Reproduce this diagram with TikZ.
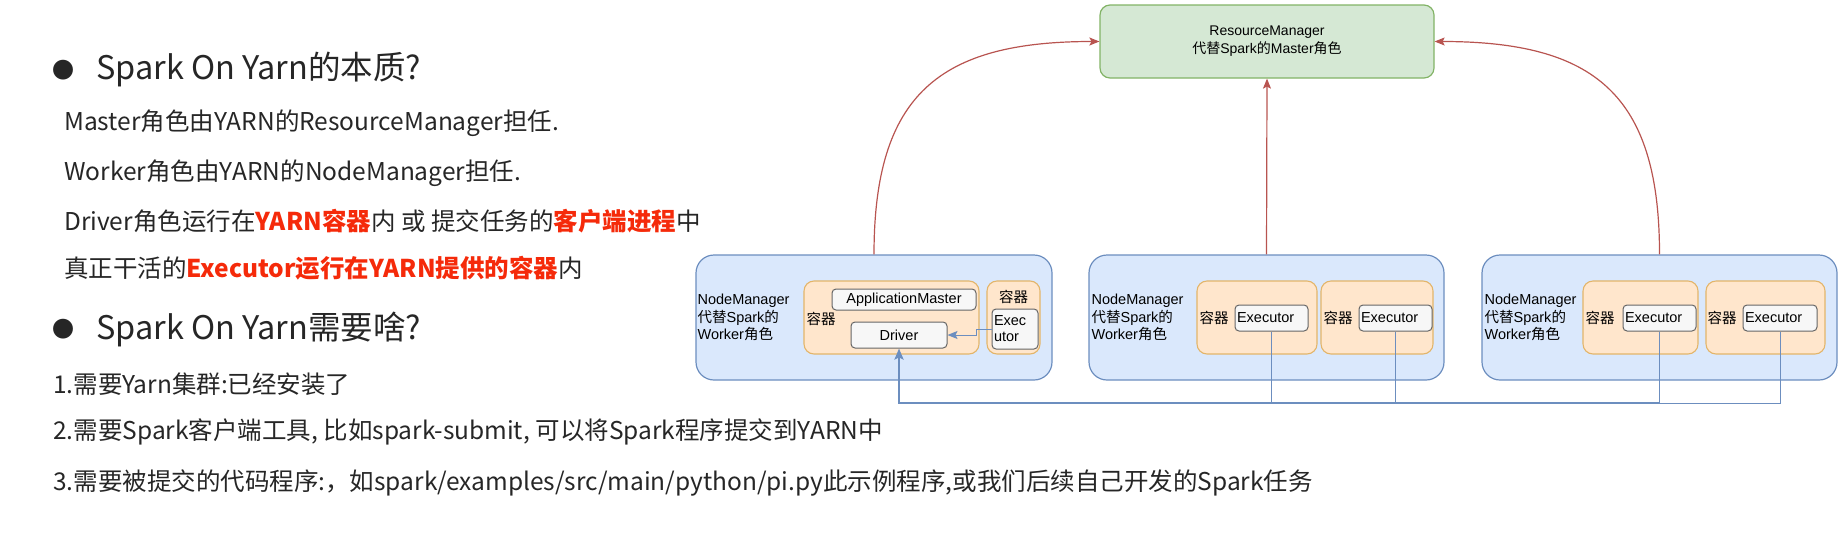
\documentclass[tikz,border=0pt]{standalone}
\usepackage{fontspec}
\setmainfont{Liberation Sans}
\newfontfamily\cjk{Noto Sans CJK SC}
\usetikzlibrary{arrows.meta}
\definecolor{nmfill}{HTML}{DAE8FC}
\definecolor{nmline}{HTML}{6C8EBF}
\definecolor{ctfill}{HTML}{FFE6CC}
\definecolor{ctline}{HTML}{E3B56A}
\definecolor{rmfill}{HTML}{D5E8D4}
\definecolor{rmline}{HTML}{82B366}
\definecolor{exfill}{HTML}{F7F7F7}
\definecolor{exline}{HTML}{666666}
\definecolor{redarrow}{HTML}{B85450}
\definecolor{hl}{HTML}{F52A0A}
\definecolor{txt}{HTML}{262626}
\newcommand\hlr[1]{{\color{hl}\bfseries #1}}
\begin{document}
\begin{tikzpicture}[x=1pt,y=-1pt,
  nm/.style={draw=nmline, fill=nmfill, rounded corners=18pt, line width=1.2pt, inner sep=0},
  ct/.style={draw=ctline, fill=ctfill, rounded corners=10pt, line width=1.1pt, inner sep=0},
  ex/.style={draw=exline, fill=exfill, rounded corners=4pt, line width=1pt, inner sep=2pt, font=\fontsize{14.5}{16}\selectfont},
  rmbox/.style={draw=rmline, fill=rmfill, rounded corners=10pt, line width=1.2pt, inner sep=0, font=\fontsize{14}{18}\selectfont, align=center},
  lbl/.style={inner sep=0, font=\fontsize{14.5}{17.5}\selectfont, align=left, text=black},
  ctl/.style={inner sep=0, font=\cjk\fontsize{14.5}{17}\selectfont, text=black},
  redarr/.style={draw=redarrow, line width=1.2pt, -{Stealth[length=10pt,width=8pt,inset=2pt]}},
  bl/.style={draw=nmline, line width=1pt},
  blthick/.style={draw=nmline, line width=2.4pt},
  bullet/.style={inner sep=0, font=\cjk\fontsize{22}{22}\selectfont, text=txt},
  ttl/.style={inner sep=0, anchor=west, font=\cjk\fontsize{32.5}{32.5}\selectfont, text=txt},
  body/.style={inner sep=0, anchor=west, font=\cjk\fontsize{24.5}{24.5}\selectfont, text=txt}]
\useasboundingbox (0,0) rectangle (1841,544);

% left text
\node[bullet] (b1) at (63,70) {●};
\node[ttl] (t1) at (96,70) {Spark On Yarn的本质?};
\node[body] (l1) at (64,123) {Master角色由YARN的ResourceManager担任.};
\node[body] (l2) at (64,173) {Worker角色由YARN的NodeManager担任.};
\node[body] (l3) at (64,221) {Driver角色运行在\hlr{YARN容器}内 或 提交任务的\hlr{客户端进程}中};
\node[body] (l4) at (64,268) {真正干活的\hlr{Executor运行在YARN提供的容器}内};
\node[bullet] (b2) at (63,329) {●};
\node[ttl] (t2) at (96,329) {Spark On Yarn需要啥?};
\node[body] (m1) at (53,384) {1.需要Yarn集群:已经安装了};
\node[body] (m2) at (53,432) {2.需要Spark客户端工具, 比如spark-submit, 可以将Spark程序提交到YARN中};
\node[body] (m3) at (53,483) {3.需要被提交的代码程序:，如spark/examples/src/main/python/pi.py此示例程序,或我们后续自己开发的Spark任务};

% ResourceManager
\node[rmbox, minimum width=334pt, minimum height=73pt] (rm) at (1267,41.5) {ResourceManager\\{\cjk 代替}Spark{\cjk 的}Master{\cjk 角色}};

% NodeManagers
\node[nm, minimum width=356pt, minimum height=125pt] (n1) at (874,317.5) {};
\node[nm, minimum width=355pt, minimum height=125pt] (n2) at (1266.5,317.5) {};
\node[nm, minimum width=355pt, minimum height=125pt] (n3) at (1659.5,317.5) {};
\node[lbl, anchor=west] (n1l) at ([xshift=2pt]n1.west) {NodeManager\\{\cjk 代替}Spark{\cjk 的}\\Worker{\cjk 角色}};
\node[lbl, anchor=west] (n2l) at ([xshift=3pt]n2.west) {NodeManager\\{\cjk 代替}Spark{\cjk 的}\\Worker{\cjk 角色}};
\node[lbl, anchor=west] (n3l) at ([xshift=3pt]n3.west) {NodeManager\\{\cjk 代替}Spark{\cjk 的}\\Worker{\cjk 角色}};

% containers node 1
\node[ct, minimum width=175pt, minimum height=73pt] (c1a) at (891.5,317.5) {};
\node[ct, minimum width=53pt, minimum height=73pt] (c1b) at (1013.5,317.5) {};
\node[ctl] (c1al) at (821,319) {容器};
\node[ctl] (c1bl) at (1013.5,297) {容器};
\node[ex, minimum width=144pt, minimum height=21pt] (am) at (904,299.5) {ApplicationMaster};
\node[ex, minimum width=96pt, minimum height=26pt] (drv) at (899,335) {Driver};
\node[ex, minimum width=46pt, minimum height=40pt, text width=42pt, align=left] (exs) at (1015,329) {Exec\\utor};

% containers node 2
\node[ct, minimum width=120pt, minimum height=73pt] (c2a) at (1257,317.5) {};
\node[ct, minimum width=112pt, minimum height=73pt] (c2b) at (1377,317.5) {};
\node[ctl] (c2al) at (1214,318) {容器};
\node[ctl] (c2bl) at (1338,318) {容器};
\node[ex, minimum width=73pt, minimum height=26pt, text width=69pt, align=left] (e2a) at (1271.5,318) {Executor};
\node[ex, minimum width=73pt, minimum height=26pt, text width=69pt, align=left] (e2b) at (1395.5,318) {Executor};

% containers node 3
\node[ct, minimum width=115pt, minimum height=73pt] (c3a) at (1640.5,317.5) {};
\node[ct, minimum width=119pt, minimum height=73pt] (c3b) at (1765.5,317.5) {};
\node[ctl] (c3al) at (1600,318) {容器};
\node[ctl] (c3bl) at (1722,318) {容器};
\node[ex, minimum width=73pt, minimum height=26pt, text width=69pt, align=left] (e3a) at (1659.5,318) {Executor};
\node[ex, minimum width=74pt, minimum height=26pt, text width=70pt, align=left] (e3b) at (1780,318) {Executor};

% red arrows
\draw[redarr] (n2.north) -- (rm.south);
\draw[redarr] (n1.north) .. controls +(0,-160) and +(-160,0) .. (rm.west);
\draw[redarr] (n3.north) .. controls +(0,-160) and +(160,0) .. (rm.east);

% blue connectors
\coordinate (bus) at (0,403);
\draw[bl] (e2a.south) -- (e2a.south |- bus);
\draw[bl] (e2b.south) -- (e2b.south |- bus);
\draw[bl] (e3a.south) -- (e3a.south |- bus);
\draw[bl] (e3b.south) -- (e3b.south |- bus) -- (e3a.south |- bus);
\draw[blthick, -{Stealth[length=11pt,width=9pt,inset=2pt]}] (e3a.south |- bus) -| (drv.south);
\draw[bl, -{Stealth[length=10pt,width=8pt,inset=2pt]}] (exs.west) -- ++(-15,0) |- (drv.east);
\end{tikzpicture}
\end{document}
